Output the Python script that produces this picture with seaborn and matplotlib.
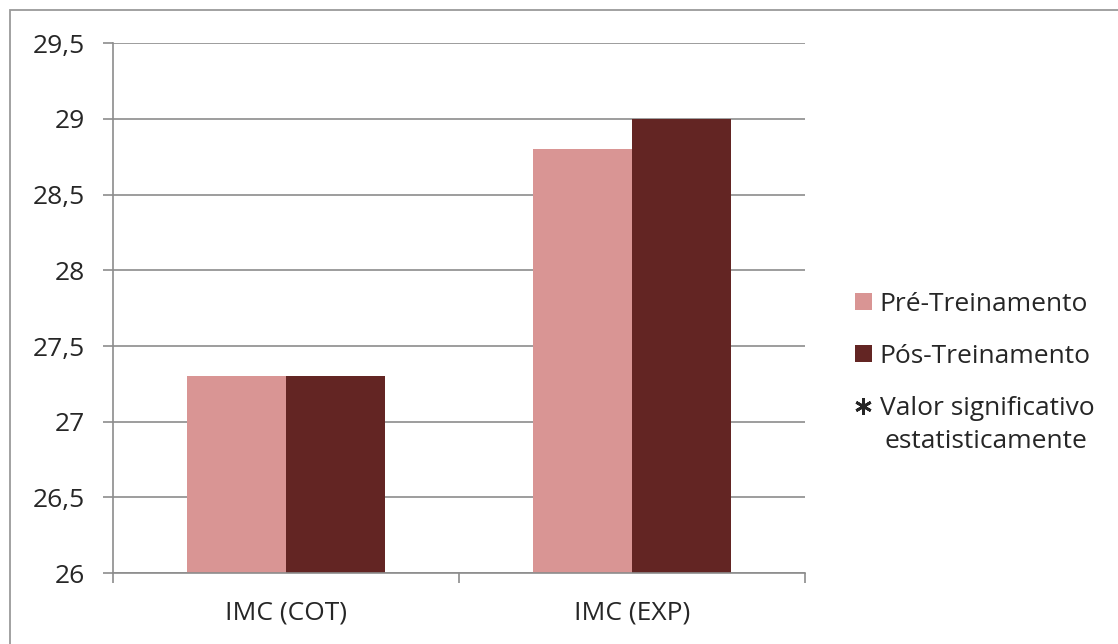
import matplotlib
matplotlib.use("Agg")
import matplotlib.pyplot as plt
from matplotlib.patches import Patch, Rectangle
from matplotlib.lines import Line2D
import seaborn as sns
import pandas as pd

categories = ["IMC (COT)", "IMC (EXP)"]
series_names = ["Pré-Treinamento", "Pós-Treinamento"]
pre_values = [27.3, 28.8]
post_values = [27.3, 29.0]
y_ticks = [26, 26.5, 27, 27.5, 28, 28.5, 29, 29.5]
y_tick_labels = ["26", "26,5", "27", "27,5", "28", "28,5", "29", "29,5"]
colors = ["#D99594", "#632523"]
note_first_line = "Valor significativo"
note_second_line = "estatisticamente"

df = pd.DataFrame({
    "categoria": categories * 2,
    "serie": [series_names[0]] * len(categories) + [series_names[1]] * len(categories),
    "valor": pre_values + post_values,
})

sns.set_theme(style="white")
plt.rcParams["font.family"] = ["Open Sans", "DejaVu Sans"]

text_color = "#262626"
font_size = 19

fig = plt.figure(figsize=(11.18, 6.44), dpi=100)
ax = fig.add_axes([0.101, 0.110, 0.619, 0.823])

sns.barplot(data=df, x="categoria", y="valor", hue="serie", hue_order=series_names,
            palette=colors, width=0.572, saturation=1, ax=ax, legend=False,
            edgecolor="none", linewidth=0)

ax.set_ylim(26, 29.5)
ax.set_xlim(-0.5, 1.5)
ax.set_yticks(y_ticks)
ax.set_yticklabels(y_tick_labels)
ax.set_xlabel("")
ax.set_ylabel("")

grid_color = "#8c8c8c"
ax.yaxis.grid(True, color=grid_color, linewidth=1.2)
ax.set_axisbelow(True)
for side in ["top", "right"]:
    ax.spines[side].set_visible(False)
for side in ["left", "bottom"]:
    ax.spines[side].set_color(grid_color)
    ax.spines[side].set_linewidth(1.2)

ax.tick_params(axis="y", which="major", left=True, length=7, width=1.2,
               color=grid_color, labelsize=font_size, labelcolor=text_color, pad=13)
ax.tick_params(axis="x", which="major", bottom=False, labelsize=font_size,
               labelcolor=text_color, pad=14)
ax.set_xticks([-0.5, 0.5, 1.5], minor=True)
ax.tick_params(axis="x", which="minor", bottom=True, length=7, width=1.2,
               color=grid_color)

handles = [
    Patch(facecolor=colors[0], edgecolor="none"),
    Patch(facecolor=colors[1], edgecolor="none"),
    Line2D([], [], marker=(6, 2, 0), linestyle="none", color=text_color,
           markersize=12, markeredgewidth=2),
]
leg = fig.legend(handles, series_names + [note_first_line], loc="upper left",
                 bbox_to_anchor=(0.765, 0.547), frameon=False, fontsize=font_size,
                 handlelength=0.62, handleheight=0.62, handletextpad=0.3,
                 labelspacing=1.02, borderaxespad=0, borderpad=0)
for t in leg.get_texts():
    t.set_color(text_color)

# continuation line of the significance note
fig.text(884 / 1118, 1 - 441 / 644, note_second_line, fontsize=font_size,
         color=text_color, ha="left", va="center")

# outer chart border
fig.patches.append(Rectangle((10 / 1118, -0.05), 1.2, 1 - 10 / 644 + 0.05,
                             transform=fig.transFigure, fill=False,
                             edgecolor="#9a9a9a", linewidth=1.3))

fig.savefig("out.png", dpi=100)
